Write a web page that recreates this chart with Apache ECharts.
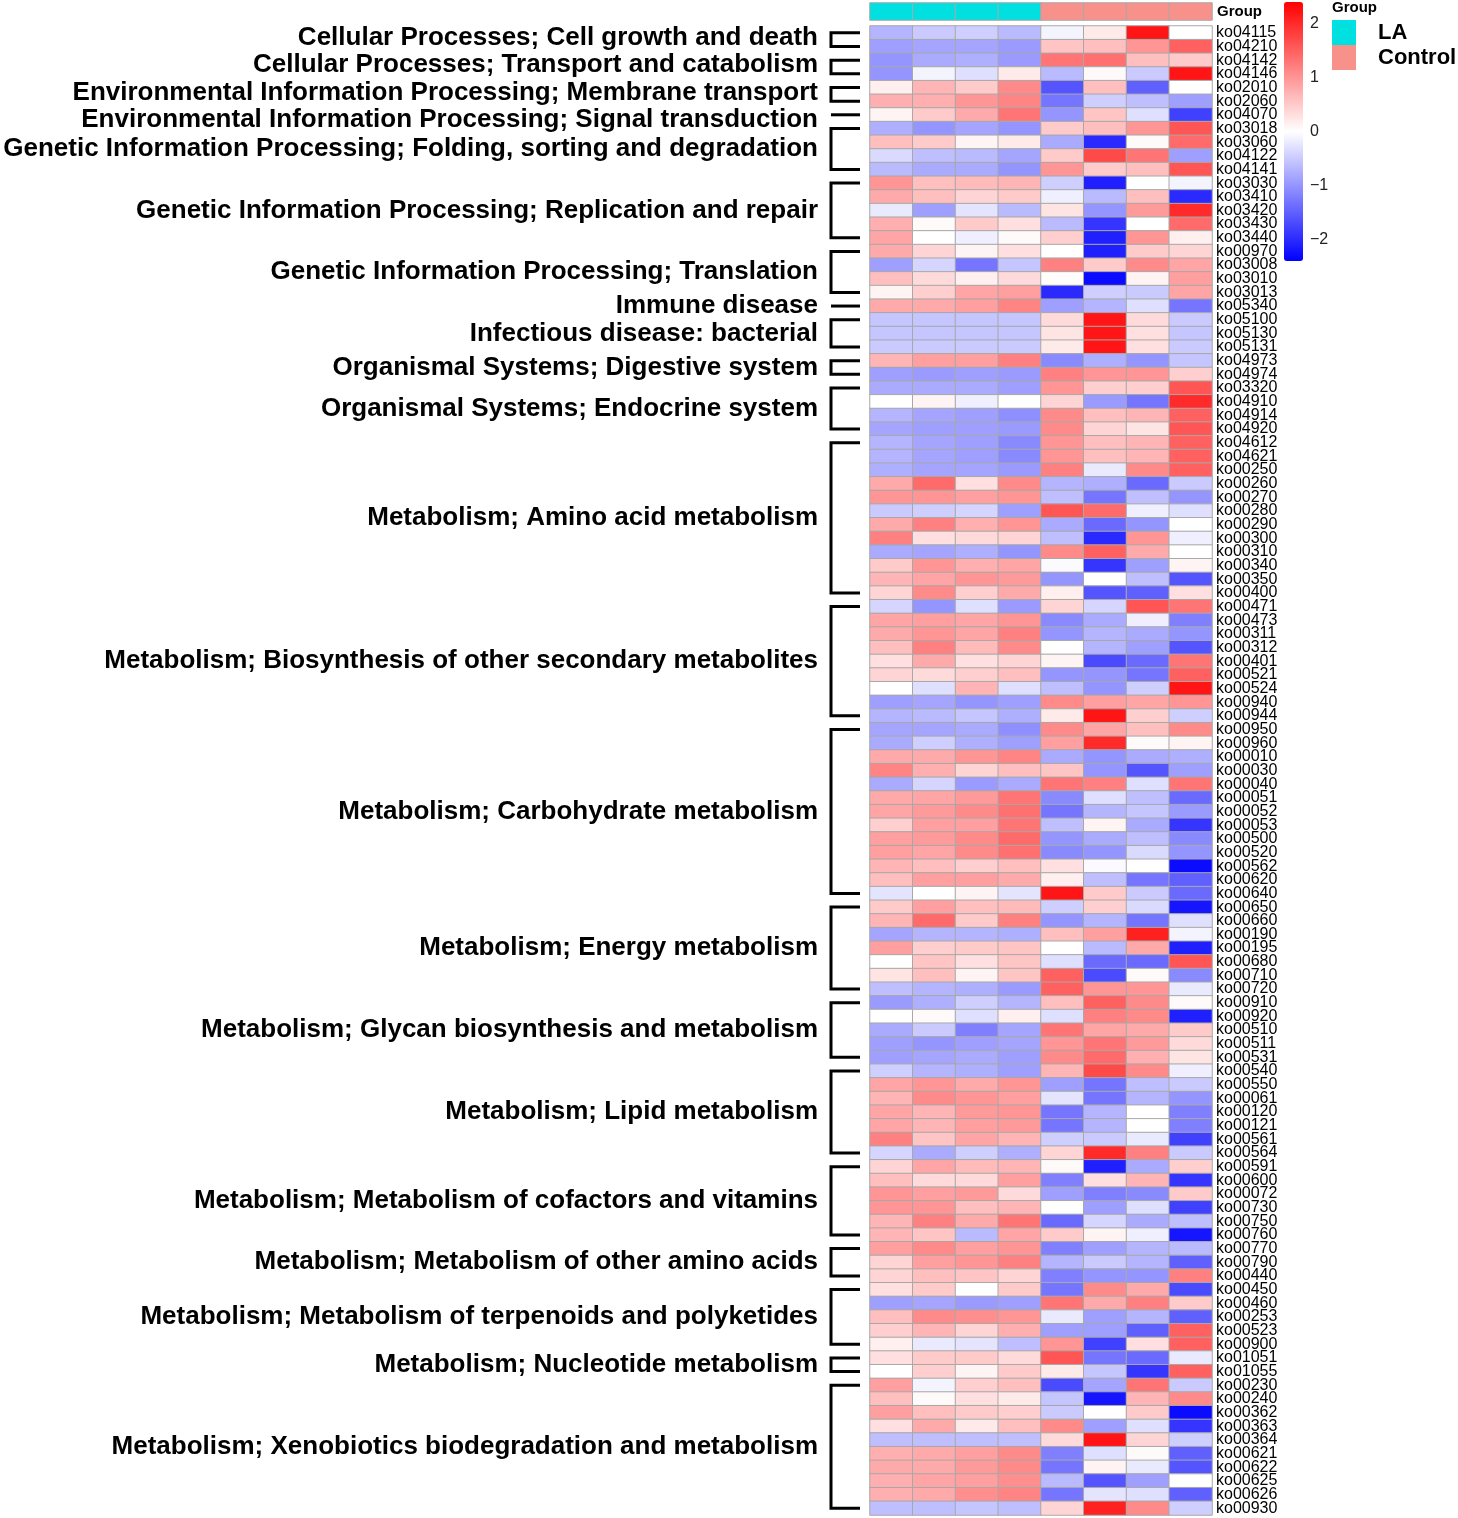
<!DOCTYPE html>
<html>
<head>
<meta charset="utf-8">
<script src="https://cdn.jsdelivr.net/npm/echarts@6/dist/echarts.min.js"></script>
<style>
html,body{margin:0;padding:0;background:#fff;}
#main{width:1458px;height:1518px;}
</style>
</head>
<body>
<div id="main"></div>
<script>
const samples = ['LA1','LA2','LA3','LA4','Control1','Control2','Control3','Control4'];
const sampleGroup = [0,0,0,0,1,1,1,1];
const groupLevels = ['LA','Control'];
const colorTicks = [-2,-1,0,1,2];

const pathways = ['ko04115','ko04210','ko04142','ko04146','ko02010','ko02060','ko04070','ko03018','ko03060','ko04122',
'ko04141','ko03030','ko03410','ko03420','ko03430','ko03440','ko00970','ko03008','ko03010','ko03013',
'ko05340','ko05100','ko05130','ko05131','ko04973','ko04974','ko03320','ko04910','ko04914','ko04920',
'ko04612','ko04621','ko00250','ko00260','ko00270','ko00280','ko00290','ko00300','ko00310','ko00340',
'ko00350','ko00400','ko00471','ko00473','ko00311','ko00312','ko00401','ko00521','ko00524','ko00940',
'ko00944','ko00950','ko00960','ko00010','ko00030','ko00040','ko00051','ko00052','ko00053','ko00500',
'ko00520','ko00562','ko00620','ko00640','ko00650','ko00660','ko00190','ko00195','ko00680','ko00710',
'ko00720','ko00910','ko00920','ko00510','ko00511','ko00531','ko00540','ko00550','ko00061','ko00120',
'ko00121','ko00561','ko00564','ko00591','ko00600','ko00072','ko00730','ko00750','ko00760','ko00770',
'ko00790','ko00440','ko00450','ko00460','ko00253','ko00523','ko00900','ko01051','ko01055','ko00230',
'ko00240','ko00362','ko00363','ko00364','ko00621','ko00622','ko00625','ko00626','ko00930'];

const zscores = [
[-0.7,-0.5,-0.45,-0.65,-0.1,0.2,2.2,0.0],
[-0.9,-0.85,-0.85,-0.95,0.55,0.6,1.0,1.5],
[-1.0,-0.8,-0.75,-0.95,1.3,1.35,0.6,0.5],
[-1.0,-0.1,-0.3,0.2,-0.65,0.05,-0.5,2.2],
[0.15,0.7,0.5,1.1,-1.6,0.6,-1.5,0.0],
[0.75,0.75,1.0,1.15,-1.3,-0.45,-0.6,-0.9],
[0.1,0.5,0.8,1.3,-1.0,0.55,-0.3,-1.8],
[-0.75,-1.0,-0.85,-1.0,0.5,0.6,1.0,1.6],
[0.6,0.5,0.1,0.2,-0.8,-2.0,0.05,1.4],
[-0.35,-0.6,-0.65,-0.85,0.5,1.7,1.3,-0.9],
[-0.65,-0.8,-0.8,-1.0,1.0,0.5,0.6,1.6],
[1.0,0.6,0.65,0.7,-0.45,-2.1,0.0,-0.1],
[0.8,0.6,0.4,0.5,-0.15,-0.65,0.6,-2.0],
[-0.2,-0.9,-0.25,-0.65,0.25,-1.0,0.95,2.0],
[0.75,0.05,0.5,0.3,-0.65,-1.9,0.0,1.4],
[0.85,0.0,-0.15,0.05,0.45,-2.1,1.0,0.15],
[0.8,0.4,0.1,0.3,0.0,-2.1,0.5,0.4],
[-0.9,-0.4,-1.3,-0.55,1.2,0.5,1.1,0.85],
[0.6,0.35,0.15,0.35,0.03,-2.3,0.1,0.9],
[0.1,0.45,0.85,0.9,-2.0,-0.45,-0.5,0.85],
[0.8,0.8,0.9,1.15,-0.9,-0.7,-0.3,-1.3],
[-0.55,-0.55,-0.55,-0.55,0.35,2.2,0.35,-0.5],
[-0.55,-0.55,-0.55,-0.55,0.25,2.2,0.3,-0.55],
[-0.5,-0.5,-0.5,-0.5,0.2,2.2,0.3,-0.5],
[0.7,0.9,0.9,1.2,-1.1,-0.75,-1.0,-0.55],
[-0.9,-0.95,-0.9,-0.95,1.2,1.0,1.0,0.45],
[-0.8,-0.8,-0.8,-0.9,1.0,0.45,0.45,1.6],
[0.0,0.1,-0.15,0.0,0.4,-0.95,-1.3,2.0],
[-0.7,-0.85,-0.9,-1.05,1.1,0.6,0.7,1.5],
[-0.85,-0.9,-0.9,-0.95,1.1,0.4,0.25,1.6],
[-0.7,-0.85,-0.9,-1.1,1.0,0.6,0.7,1.5],
[-0.7,-0.85,-0.9,-1.1,1.0,0.6,0.7,1.5],
[-0.75,-0.85,-0.85,-0.95,1.2,-0.2,1.1,1.5],
[0.8,1.4,0.3,1.1,-0.7,-0.75,-1.4,-0.5],
[1.0,1.0,0.9,1.0,-0.6,-1.3,-0.6,-1.0],
[-0.5,-0.45,-0.4,-0.9,1.6,1.4,-0.15,-0.3],
[0.8,1.2,0.75,1.0,-0.8,-1.4,-1.0,0.0],
[1.2,0.3,0.35,0.4,-0.6,-2.0,1.0,-0.15],
[-0.8,-0.85,-0.75,-1.0,1.1,1.5,0.8,0.0],
[0.5,1.0,0.75,0.85,-0.05,-1.9,-0.9,0.1],
[0.7,0.85,1.0,0.95,-1.0,0.0,-0.6,-1.6],
[0.4,1.1,0.45,0.8,0.15,-1.6,-1.5,0.3],
[-0.4,-1.0,-0.3,-0.95,0.4,-0.4,1.6,1.3],
[0.85,0.9,0.85,1.0,-1.1,-0.8,-0.15,-1.2],
[0.8,1.0,0.85,1.2,-1.0,-0.7,-0.8,-1.0],
[0.6,1.2,0.65,1.1,0.0,-0.7,-0.9,-1.6],
[0.3,0.8,0.3,0.4,0.1,-1.7,-1.4,1.3],
[0.4,0.35,0.45,0.6,-1.0,-1.0,-1.3,1.5],
[0.0,-0.3,0.7,-0.3,-0.6,-1.0,-0.45,2.2],
[-0.9,-0.85,-1.0,-0.9,1.1,0.9,0.85,1.0],
[-0.7,-0.65,-0.55,-0.75,0.2,2.2,0.45,-0.45],
[-0.85,-0.85,-0.8,-1.05,1.1,0.85,0.6,1.1],
[-0.8,-0.45,-0.75,-0.9,0.9,2.0,0.05,0.1],
[0.8,0.8,1.0,1.15,-0.8,-1.0,-0.8,-0.75],
[1.15,0.75,0.4,0.6,0.55,-1.0,-1.6,-0.9],
[-0.8,-0.4,-0.95,-0.8,1.3,1.2,-0.3,1.3],
[0.8,0.85,0.95,1.3,-1.1,-0.3,-0.6,-1.4],
[0.85,0.95,1.1,1.35,-1.3,-0.7,-0.55,-0.95],
[0.45,0.9,0.9,1.3,-0.6,0.1,-0.8,-1.9],
[0.9,0.95,1.1,1.4,-1.0,-0.8,-0.6,-1.1],
[0.9,0.85,1.1,1.35,-1.1,-1.0,-0.35,-1.0],
[0.7,0.6,0.45,0.6,0.3,-0.05,0.0,-2.3],
[0.6,0.9,0.9,0.8,0.15,-0.6,-1.3,-1.5],
[-0.25,0.0,0.1,-0.25,2.2,0.5,-0.5,-1.4],
[0.5,0.9,0.6,0.65,-0.45,0.45,-0.35,-2.2],
[0.7,1.4,0.5,1.2,-1.0,-0.7,-1.3,-0.3],
[-0.85,-0.7,-0.7,-0.75,0.6,0.9,2.1,-0.1],
[0.9,0.45,0.5,0.55,0.0,-0.65,0.8,-2.1],
[0.0,0.55,0.3,0.55,-0.3,-1.4,-1.4,1.6],
[0.25,0.6,0.1,0.55,1.5,-1.7,0.05,-1.1],
[-0.6,-0.7,-0.75,-0.95,1.5,1.0,1.0,-0.2],
[-0.95,-0.75,-0.45,-0.7,0.6,1.5,1.1,0.05],
[0.0,0.05,-0.3,0.15,-0.3,1.2,1.1,-2.1],
[-0.8,-0.5,-1.2,-0.85,1.3,0.85,0.8,0.5],
[-0.9,-1.0,-0.9,-0.85,1.0,1.3,0.95,0.35],
[-0.9,-0.85,-0.8,-0.9,1.1,1.4,0.75,0.25],
[-0.45,-0.7,-0.75,-0.9,0.7,1.7,1.1,-0.15],
[0.85,1.0,0.8,1.0,-0.9,-1.3,-0.6,-0.5],
[0.7,1.1,1.0,0.9,-0.25,-1.3,-0.7,-1.0],
[0.85,0.7,0.95,1.0,-1.3,-0.7,0.0,-1.2],
[0.85,0.7,0.9,0.95,-1.3,-0.7,0.0,-1.2],
[1.2,0.55,0.85,0.7,-0.45,-0.5,-0.2,-1.8],
[-0.4,-0.8,-0.45,-0.75,0.4,2.0,1.2,-0.5],
[0.4,0.85,0.65,0.7,0.05,-2.1,-0.8,0.45],
[0.6,0.35,0.35,0.9,-1.2,0.3,0.7,-1.9],
[1.0,0.9,0.95,0.35,-0.9,-1.2,-1.1,0.5],
[1.0,1.0,0.6,0.7,0.0,-0.9,-0.3,-1.8],
[0.7,1.2,0.8,1.3,-1.4,-0.4,-0.8,-0.6],
[0.7,0.55,-0.65,0.85,0.5,0.1,-0.15,-2.2],
[0.9,1.1,0.9,1.0,-1.2,-0.9,-0.7,-0.65],
[0.4,0.9,1.0,1.2,-0.7,-0.5,-0.7,-1.5],
[0.4,0.6,0.55,0.4,-1.2,-1.0,-1.0,1.2],
[0.3,0.5,0.0,0.5,-1.3,1.1,0.8,-1.7],
[-0.9,-0.85,-0.95,-0.9,1.3,0.8,1.2,0.5],
[0.6,1.1,1.05,1.0,-0.2,-0.9,-0.7,-1.5],
[0.45,0.7,0.4,0.75,-0.9,-0.9,-1.5,1.5],
[0.15,-0.2,-0.25,-0.6,1.0,-1.8,0.3,1.5],
[0.3,0.5,0.5,0.35,1.6,-1.3,-1.4,-0.2],
[0.0,0.45,0.1,0.5,0.2,-0.55,-1.9,1.5],
[0.9,-0.1,0.45,0.6,-1.7,-0.85,1.3,-0.5],
[0.6,0.05,0.3,0.2,-0.55,-2.2,0.7,1.1],
[0.9,0.6,0.5,0.45,-0.5,0.0,0.5,-2.3],
[0.3,0.8,0.2,0.6,1.1,-0.9,-0.3,-1.9],
[-0.6,-0.6,-0.6,-0.6,0.35,2.2,0.4,-0.45],
[0.75,0.8,0.9,1.1,-1.2,-0.3,0.05,-1.5],
[0.8,0.8,0.95,1.1,-1.3,0.1,-0.2,-1.6],
[0.75,0.85,0.9,1.05,-0.65,-1.6,-0.9,0.0],
[0.75,0.8,1.05,1.15,-1.3,-0.25,-0.3,-1.5],
[-0.6,-0.6,-0.55,-0.6,0.4,2.1,1.1,-0.45]
];

const groupNames = [
'Cellular Processes; Cell growth and death',
'Cellular Processes; Transport and catabolism',
'Environmental Information Processing; Membrane transport',
'Environmental Information Processing; Signal transduction',
'Genetic Information Processing; Folding, sorting and degradation',
'Genetic Information Processing; Replication and repair',
'Genetic Information Processing; Translation',
'Immune disease',
'Infectious disease: bacterial',
'Organismal Systems; Digestive system',
'Organismal Systems; Endocrine system',
'Metabolism; Amino acid metabolism',
'Metabolism; Biosynthesis of other secondary metabolites',
'Metabolism; Carbohydrate metabolism',
'Metabolism; Energy metabolism',
'Metabolism; Glycan biosynthesis and metabolism',
'Metabolism; Lipid metabolism',
'Metabolism; Metabolism of cofactors and vitamins',
'Metabolism; Metabolism of other amino acids',
'Metabolism; Metabolism of terpenoids and polyketides',
'Metabolism; Nucleotide metabolism',
'Metabolism; Xenobiotics biodegradation and metabolism'
];
const groupStart = [0,2,4,6,7,11,16,20,21,24,26,30,42,51,64,71,76,83,89,92,97,99];
const groupEnd   = [1,3,5,6,10,15,19,20,23,25,29,41,50,63,70,75,82,88,91,96,98,108];

const FONT = '"Liberation Sans", Arial, sans-serif';

const heatData = [];
zscores.forEach((row, r) => row.forEach((v, c) => heatData.push([c, r, v])));
const annoData = sampleGroup.map((g, c) => [c, 0, g]);
const bracketData = groupStart.map((s, i) => [0, s, groupEnd[i]]);

// keep group labels from colliding: spread them apart with a minimum spacing
function spreadLabels(mids, gap) {
  const stack = [];
  for (let i = 0; i < mids.length; i++) {
    stack.push({start: i, n: 1, sum: mids[i]});
    while (stack.length > 1) {
      const b = stack[stack.length - 1], a = stack[stack.length - 2];
      const aEnd = a.sum / a.n + gap * (a.n - 1);
      if (b.sum / b.n - aEnd < gap) {
        a.sum += b.sum - gap * (b.start - a.start) * b.n;
        a.n += b.n;
        stack.pop();
      } else break;
    }
  }
  const out = [];
  stack.forEach(c => { const f = c.sum / c.n; for (let k = 0; k < c.n; k++) out.push(f + gap * k); });
  return out;
}

function renderBracket(params, api) {
  const s = api.value(1), e = api.value(2);
  const a = api.coord([0, s]), b = api.coord([0, e]);
  const cw = api.size([1, 0])[0];
  const left = a[0] - cw / 2;
  const xv = left - 39, xh = left - 10;
  const y0 = Math.min(a[1], b[1]), y1 = Math.max(a[1], b[1]);
  const mids = groupStart.map((gs, i) => (api.coord([0, gs])[1] + api.coord([0, groupEnd[i]])[1]) / 2);
  const ly = spreadLabels(mids, 27.5)[params.dataIndex];
  const pts = s === e ? [[xv, y0], [xh, y0]] : [[xh, y0], [xv, y0], [xv, y1], [xh, y1]];
  return {
    type: 'group',
    children: [
      {type: 'polyline', shape: {points: pts}, style: {stroke: '#000', lineWidth: 3, fill: null, lineJoin: 'miter'}},
      {type: 'text', x: left - 52, y: ly,
       style: {text: groupNames[params.dataIndex], align: 'right', verticalAlign: 'middle',
               font: 'bold 26px ' + FONT, fill: '#000'}}
    ]
  };
}

const chart = echarts.init(document.getElementById('main'), null, {renderer: 'canvas'});
chart.setOption({
  animation: false,
  backgroundColor: '#fff',
  title: {text: 'Group', left: 1332, top: 0, padding: 0,
          textStyle: {fontSize: 15, fontWeight: 'bold', color: '#000', fontFamily: FONT}},
  grid: [
    {left: 870, top: 26, width: 342, height: 1489},
    {left: 870, top: 3, width: 342, height: 17},
    {left: 1284, top: 2, width: 19, height: 259}
  ],
  xAxis: [
    {type: 'category', data: samples, gridIndex: 0, show: false},
    {type: 'category', data: samples, gridIndex: 1, show: false},
    {type: 'value', gridIndex: 2, show: false, min: 0, max: 1}
  ],
  yAxis: [
    {type: 'category', data: pathways, gridIndex: 0, inverse: true, position: 'right',
     axisLine: {show: false}, axisTick: {show: false}, splitLine: {show: false},
     axisLabel: {interval: 0, fontSize: 16, color: '#000', margin: 4, fontFamily: FONT}},
    {type: 'category', data: ['Group'], gridIndex: 1, position: 'right',
     axisLine: {show: false}, axisTick: {show: false},
     axisLabel: {fontSize: 15, fontWeight: 'bold', color: '#000', margin: 5, fontFamily: FONT}},
    {type: 'value', gridIndex: 2, min: -2.4, max: 2.4, position: 'right',
     axisLine: {show: false}, axisTick: {show: false}, splitLine: {show: false},
     axisLabel: {customValues: colorTicks, fontSize: 16, color: '#222', margin: 7, fontFamily: FONT,
                 formatter: v => (v < 0 ? '\u2212' + Math.abs(v) : String(v))}}
  ],
  visualMap: [
    {type: 'continuous', seriesIndex: 0, min: -2.4, max: 2.4, calculable: false,
     orient: 'vertical', left: 1284, top: 2, itemWidth: 19, itemHeight: 259, padding: 0,
     text: null, showLabel: false, hoverLink: false, realtime: false,
     inRange: {color: ['#0000FF', '#FFFFFF', '#FF0000']}},
    {type: 'piecewise', seriesIndex: 1, orient: 'vertical', left: 1332, top: 20, padding: 0,
     itemWidth: 24, itemHeight: 25, itemGap: 0, itemSymbol: 'rect', textGap: 22,
     align: 'left', inverse: true,
     selectedMode: false, hoverLink: false,
     pieces: [{value: 0, label: groupLevels[0], color: '#00E0E0'},
              {value: 1, label: groupLevels[1], color: '#F8918A'}],
     textStyle: {fontSize: 22, fontWeight: 'bold', color: '#000', fontFamily: FONT}}
  ],
  series: [
    {type: 'heatmap', xAxisIndex: 0, yAxisIndex: 0, data: heatData,
     itemStyle: {borderColor: '#A8A8A8', borderWidth: 1},
     emphasis: {disabled: true}, silent: true},
    {type: 'heatmap', xAxisIndex: 1, yAxisIndex: 1, data: annoData,
     itemStyle: {borderColor: '#A8A8A8', borderWidth: 1},
     emphasis: {disabled: true}, silent: true},
    {type: 'custom', xAxisIndex: 0, yAxisIndex: 0, data: bracketData,
     encode: {x: 0, y: [1, 2]}, renderItem: renderBracket, clip: false, silent: true}
  ]
});
</script>
</body>
</html>
